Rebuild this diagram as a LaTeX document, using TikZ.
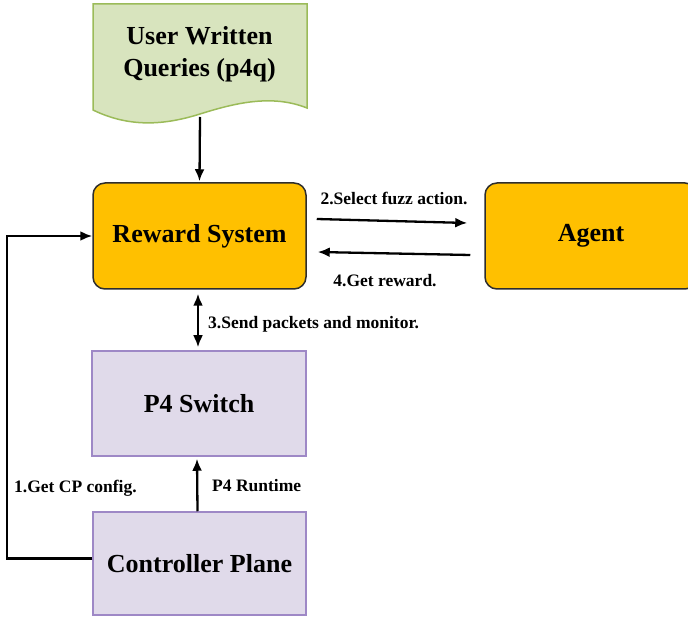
\documentclass[tikz,border=0pt]{standalone}
\usepackage{fontspec}
\setmainfont{Liberation Serif}
\usetikzlibrary{arrows.meta,calc}
\definecolor{docfill}{RGB}{216,228,190}
\definecolor{docdraw}{RGB}{155,187,89}
\definecolor{rwfill}{RGB}{255,192,0}
\definecolor{rwdraw}{RGB}{45,45,45}
\definecolor{pfill}{RGB}{224,218,234}
\definecolor{pdraw}{RGB}{158,136,198}
\tikzset{
  big/.style={font=\fontsize{26}{32}\selectfont\bfseries, align=center},
  small/.style={font=\fontsize{17.5}{21}\selectfont\bfseries, inner sep=0pt},
  orange/.style={big, draw=rwdraw, fill=rwfill, line width=1.5pt, rounded corners=12pt},
  purple/.style={big, draw=pdraw, fill=pfill, line width=1.5pt},
  arr/.style={line width=2.3pt, -{Latex[length=12pt,width=10pt]}},
  darr/.style={line width=2.3pt, {Latex[length=12pt,width=10pt]}-{Latex[length=12pt,width=10pt]}},
  plain/.style={line width=2.3pt}
}
\begin{document}
\begin{tikzpicture}[x=1pt,y=-1pt]
\useasboundingbox (0,0) rectangle (688,617);
\clip (0,0) rectangle (688,617);
% document shape
\draw[docdraw, fill=docfill, line width=1.5pt]
  (93,4) -- (307,4) -- (307,108)
  .. controls (272,94) and (235,103) .. (200,114)
  .. controls (165,125) and (130,128) .. (93,110) -- cycle;
\node[big] (doc) at (199.5,54) {User Written\\Queries (p4q)};
\coordinate (docbot) at (200,117);
% boxes
\node[orange, minimum width=213pt, minimum height=106pt] (reward) at (199.5,236) {Reward System};
\node[orange, minimum width=212pt, minimum height=106pt] (agent) at (591,236) {Agent};
\node[purple, minimum width=214pt, minimum height=105pt] (p4) at (199,403.5) {P4 Switch};
\node[purple, minimum width=213pt, minimum height=103pt] (ctrl) at (199.5,563.5) {Controller Plane};
% connectors
\draw[arr] (docbot) -- ([yshift=1pt]reward.north);
\draw[arr] ([xshift=10pt,yshift=17pt]reward.east) -- ([xshift=-17pt,yshift=13pt]agent.west);
\draw[arr] ([xshift=-14pt,yshift=-19pt]agent.west) -- ([xshift=11pt,yshift=-16pt]reward.east);
\draw[darr] ([xshift=-1.5pt,yshift=-4pt]reward.south) -- ([xshift=-1pt,yshift=3pt]p4.north);
\draw[arr] ([xshift=-2pt]ctrl.north) -- ([xshift=-2pt,yshift=-2pt]p4.south);
\coordinate (loopc) at (7,400);
\draw[arr] ([yshift=5pt]ctrl.west) -| (loopc) |- (reward.west);
% labels
\node[small] (l2) at (394,198) {2.Select fuzz action.};
\node[small] (l4) at (385,281) {4.Get reward.};
\node[small, anchor=west] (l3) at (208,324) {3.Send packets and monitor.};
\node[small, anchor=west] (lrt) at (212,486) {P4 Runtime};
\node[small, anchor=west] (l1) at (14,488) {1.Get CP config.};
\end{tikzpicture}
\end{document}
